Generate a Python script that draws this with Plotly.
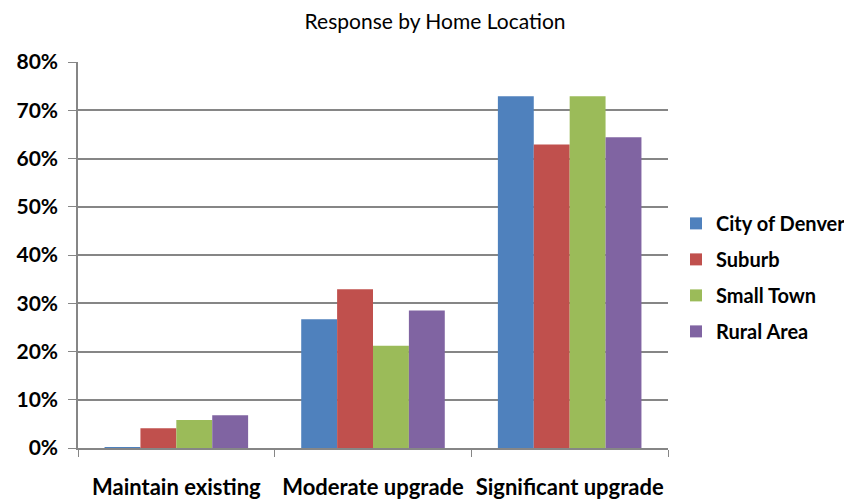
import plotly.graph_objects as go

# Survey response share by home location
categories = ['Maintain existing', 'Moderate upgrade', 'Significant upgrade']
denver = [0.002, 0.267, 0.729]
suburb = [0.041, 0.329, 0.629]
small_town = [0.058, 0.212, 0.729]
rural = [0.068, 0.285, 0.644]

series_names = ['City of Denver', 'Suburb', 'Small Town', 'Rural Area']
series_colors = ['#4F81BD', '#C0504D', '#9BBB59', '#8064A2']

fig = go.Figure()

for name, vals, color in zip(series_names, [denver, suburb, small_town, rural], series_colors):
    fig.add_trace(go.Bar(
        x=categories,
        y=vals,
        name=name,
        legendgroup=name,
        marker=dict(color=color, line=dict(width=0)),
        hovertemplate='%{x}<br>' + name + ': %{y:.0%}<extra></extra>'
    ))

# page body has an 8px margin, so the figure is a bit smaller than the window
fig.update_layout(
    width=844,
    height=494,
    margin=dict(l=70, r=184, t=54, b=54, autoexpand=False),
    paper_bgcolor='white',
    plot_bgcolor='white',
    barmode='group',
    bargap=0.27,
    bargroupgap=0,
    title=dict(
        text='Response by Home Location',
        x=0.506, xref='container', xanchor='center',
        y=0.972, yanchor='middle',
        font=dict(family='Lato', size=21, color='black')
    ),
    font=dict(family='Lato', color='black'),
    legend=dict(
        x=1.0136, y=0.442, xanchor='left', yanchor='middle',
        font=dict(family='Lato', size=20, color='black', weight='bold'),
        tracegroupgap=7, itemwidth=30,
    ),
    xaxis=dict(
        showline=True, linecolor='#868686', linewidth=1.5,
        ticks='outside', tickson='boundaries', ticklen=7, tickcolor='#868686',
        tickfont=dict(family='Lato', size=22, weight='bold'),
        tickangle=0, automargin=False, ticklabelstandoff=19,
        showgrid=False,
    ),
    yaxis=dict(
        range=[0, 0.8], dtick=0.1, tickformat='.0%',
        showline=True, linecolor='#868686', linewidth=1.5,
        ticks='outside', ticklen=8, tickcolor='#868686',
        showgrid=True, gridcolor='#868686', gridwidth=1.5,
        tickfont=dict(family='Lato', size=21, weight='bold'),
        ticklabelstandoff=6,
        automargin=False, zeroline=False,
    ),
)

fig.write_html("out.html")
